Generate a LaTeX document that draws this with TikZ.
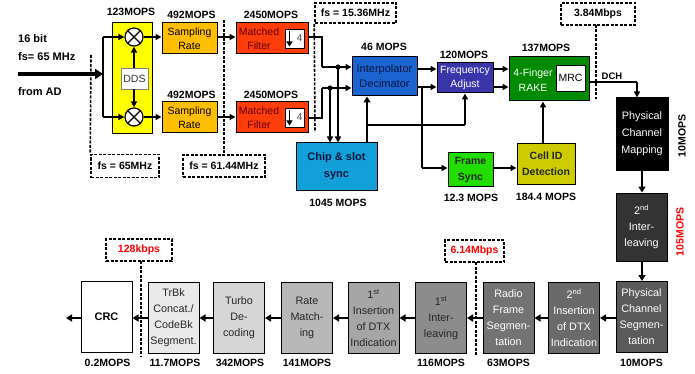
\documentclass[tikz,border=0pt]{standalone}
\usepackage{fontspec}
\setmainfont{Liberation Sans}
\usetikzlibrary{arrows.meta}
\definecolor{cyel}{HTML}{FFFF00}
\definecolor{csr}{HTML}{FFBF00}
\definecolor{cmf}{HTML}{FF3D0A}
\definecolor{cmft}{HTML}{600000}
\definecolor{cint}{HTML}{1C64D0}
\definecolor{cintt}{HTML}{0A1440}
\definecolor{cchip}{HTML}{12A0D8}
\definecolor{cfreq}{HTML}{3A35A8}
\definecolor{crake}{HTML}{008A00}
\definecolor{cframe}{HTML}{22DD00}
\definecolor{ccell}{HTML}{CCCC00}
\definecolor{cred}{HTML}{FF0000}
\definecolor{gA}{HTML}{333333}
\definecolor{gB}{HTML}{5A5A5A}
\definecolor{gC}{HTML}{6A6A6A}
\definecolor{gD}{HTML}{737373}
\definecolor{gE}{HTML}{8C8C8C}
\definecolor{gF}{HTML}{A6A6A6}
\definecolor{gG}{HTML}{B8B8B8}
\definecolor{gH}{HTML}{D6D6D6}
\definecolor{gI}{HTML}{EAEAEA}
\tikzset{
  blk/.style={draw=black, line width=1pt, inner sep=0pt, align=center,
    font=\fontsize{10.5}{14}\selectfont},
  lowblk/.style={blk, minimum width=51pt, minimum height=71pt,
    font=\fontsize{10.8}{16}\selectfont},
  mops/.style={font=\bfseries\fontsize{10.5}{12}\selectfont, inner sep=0pt},
  fsbox/.style={draw=black, line width=1.6pt, dash pattern=on 3pt off 1.5pt,
    fill=white, inner sep=0pt, font=\bfseries\fontsize{10.5}{12}\selectfont},
  dline/.style={line width=1.6pt, dash pattern=on 3pt off 1.5pt},
  arr/.style={line width=1.6pt, -{Triangle[length=6pt,width=6pt]}},
  tarr/.style={line width=2.6pt, -{Triangle[length=6pt,width=7pt]}},
  ln/.style={line width=1.6pt},
  mix/.style={circle, draw=black, line width=1.2pt, fill=white, minimum size=18pt, inner sep=0pt},
  dnbox/.style={draw=black, line width=0.8pt, fill=white, minimum width=19pt, minimum height=19pt,
    inner xsep=1.5pt, inner ysep=0pt, text width=16pt, align=right, text=black!70,
    font=\fontsize{10}{12}\selectfont},
}
\begin{document}
\begin{tikzpicture}[x=1pt,y=-1pt]
\useasboundingbox (0,0) rectangle (695,374);

% ---- input text
\node[anchor=west, font=\bfseries\fontsize{11}{13}\selectfont, inner sep=0pt] (t16) at (18,39) {16 bit};
\node[anchor=west, font=\bfseries\fontsize{11}{13}\selectfont, inner sep=0pt] (tfs) at (18,57) {fs= 65 MHz};
\node[anchor=west, font=\bfseries\fontsize{11}{13}\selectfont, inner sep=0pt] (tad) at (18,92) {from AD};
\coordinate (inL) at (18,74);
\coordinate (inR) at (103,74);
\coordinate (brT) at (103,37);
\coordinate (brB) at (103,117);

% ---- dashed fs lines and boxes
\node[fsbox, minimum width=68pt, minimum height=23pt] (fs65) at (125,166) {fs = 65MHz};
\coordinate (d65) at (91,55);
\draw[dline] (d65) -- (fs65.north west);
\node[fsbox, minimum width=82pt, minimum height=22pt] (fs61) at (224,166) {fs = 61.44MHz};
\coordinate (d61) at (224,20);
\draw[dline] (d61) -- (fs61.north);
\node[fsbox, minimum width=81pt, minimum height=20pt] (fs15) at (355.5,13) {fs = 15.36MHz};
\coordinate (d15) at (315,132);
\draw[dline] (fs15.south west) -- (d15);
\node[fsbox, minimum width=74pt, minimum height=22pt] (f384) at (598,14) {3.84Mbps};
\coordinate (d384) at (596,99);
\draw[dline] (596,25) -- (d384);
\node[fsbox, text=cred, minimum width=59pt, minimum height=22pt] (f614) at (474.5,251) {6.14Mbps};
\coordinate (d614) at (476,356);
\draw[dline] (476,262) -- (d614);
\node[fsbox, text=cred, minimum width=66pt, minimum height=22pt] (f128) at (139,250) {128kbps};
\coordinate (d128) at (141,356);
\draw[dline] (141,261) -- (d128);

% ---- yellow mixer block
\node[blk, fill=cyel, minimum width=40pt, minimum height=111pt] (yel) at (132,78.5) {};
\node[mix] (m1) at (134,37) {};
\node[mix] (m2) at (134,117) {};
\draw[line width=1.2pt] (m1.north east) -- (m1.south west) (m1.north west) -- (m1.south east);
\draw[line width=1.2pt] (m2.north east) -- (m2.south west) (m2.north west) -- (m2.south east);
\node[draw=gray, line width=0.8pt, fill=white, minimum width=27pt, minimum height=21pt, inner sep=0pt,
  font=\fontsize{10.5}{12}\selectfont, text=black!80] (dds) at (134.5,78.5) {DDS};

\draw[line width=3.5pt, -{Triangle[length=8pt,width=10pt]}] (inL) -- (inR);
\draw[line width=2.4pt] (brT) -- (brB);
\draw[arr] (brT) -- (m1.west);
\draw[arr] (brB) -- (m2.west);
\draw[arr] (dds.north -| m1) -- (m1.south);
\draw[arr] (dds.south -| m2) -- (m2.north);

% ---- sampling rate
\node[blk, fill=csr, minimum width=55pt, minimum height=31pt] (sr1) at (189.5,38.5) {Sampling\\Rate};
\node[blk, fill=csr, minimum width=55pt, minimum height=31pt] (sr2) at (189.5,117.5) {Sampling\\Rate};
\draw[arr] (m1.east) -- (sr1.west |- m1);
\draw[arr] (m2.east) -- (sr2.west |- m2);

% ---- matched filters
\node[blk, fill=cmf, minimum width=72pt, minimum height=31pt] (mf1) at (272,38.5) {};
\node[blk, fill=cmf, minimum width=72pt, minimum height=31pt] (mf2) at (272,117.5) {};
\node[align=center, text=cmft, font=\fontsize{10.5}{14}\selectfont, inner sep=0pt] (mf1t) at (259,38.5) {Matched\\Filter};
\node[align=center, text=cmft, font=\fontsize{10.5}{14}\selectfont, inner sep=0pt] (mf2t) at (259,117.5) {Matched\\Filter};
\node[dnbox] (dn1) at (294.5,38.5) {4};
\node[dnbox] (dn2) at (294.5,117.5) {4};
\draw[line width=1.8pt, -{Triangle[length=5pt,width=6pt]}] (289.5,31) -- (289.5,46.5);
\draw[line width=1.8pt, -{Triangle[length=5pt,width=6pt]}] (289.5,110) -- (289.5,125.5);
\draw[arr] (sr1.east |- m1) -- (mf1.west |- m1);
\draw[arr] (sr2.east |- m2) -- (mf2.west |- m2);

% ---- interpolator, chip sync
\node[blk, fill=cint, text=cintt, minimum width=65pt, minimum height=39pt,
  font=\fontsize{11}{15}\selectfont] (intp) at (384.5,76.5) {Interpolator\\Decimator};
\node[blk, fill=cchip, text=cintt, minimum width=81pt, minimum height=47pt,
  font=\bfseries\fontsize{11}{17}\selectfont] (chip) at (336.5,166.5) {Chip \& slot\\sync};

\coordinate (j1a) at (322,37);
\coordinate (j1b) at (322,67);
\coordinate (j2a) at (322,118);
\coordinate (j2b) at (322,88);
\coordinate (dot1) at (338,67);
\coordinate (dot2) at (330,88);
\draw[ln] (mf1.east |- j1a) -- (j1a) -- (j1b);
\draw[arr] (j1b) -- (intp.west |- j1b);
\draw[ln] (mf2.east |- j2a) -- (j2a) -- (j2b);
\draw[arr] (j2b) -- (intp.west |- j2b);
\fill (dot1) circle (2.6pt);
\fill (dot2) circle (2.6pt);
\draw[arr] (dot1) -- (chip.north -| dot1);
\draw[arr] (dot2) -- (chip.north -| dot2);

\coordinate (cs) at (367,143);
\coordinate (csb) at (367,125);
\draw[tarr] (cs) -- (intp.south -| cs);

% ---- frequency adjust, rake
\node[blk, fill=cfreq, text=white, minimum width=56pt, minimum height=30pt,
  font=\fontsize{10.5}{14}\selectfont] (freq) at (465,78) {Frequency\\Adjust};
\node[blk, fill=crake, minimum width=80pt, minimum height=44pt] (rake) at (549,79) {};
\node[align=center, text=white, font=\fontsize{10.5}{15}\selectfont, inner sep=0pt] (raket) at (533,80) {4-Finger\\RAKE};
\node[draw=black, line width=0.8pt, fill=white, minimum width=29pt, minimum height=26pt, inner sep=0pt,
  font=\fontsize{10.5}{12}\selectfont] (mrc) at (570.5,78) {MRC};

\coordinate (fa) at (465,125);
\draw[ln] (csb) -- (fa);
\draw[arr] (fa) -- (freq.south);
\draw[arr] (intp.east |- 0,69) -- (freq.west |- 0,69);
\draw[arr] (intp.east |- 0,87) -- (freq.west |- 0,87);
\draw[arr] (freq.east |- 0,69) -- (rake.west |- 0,69);
\draw[arr] (freq.east |- 0,87) -- (rake.west |- 0,87);

% ---- frame sync, cell id
\node[blk, fill=cframe, text=black!85, minimum width=45pt, minimum height=33pt,
  font=\bfseries\fontsize{10.5}{16}\selectfont] (frame) at (470.5,169.5) {Frame\\Sync};
\node[blk, fill=ccell, text=black!85, minimum width=58pt, minimum height=40pt,
  font=\bfseries\fontsize{10.5}{16}\selectfont] (cell) at (546,164) {Cell ID\\Detection};
\coordinate (fs1) at (422,87);
\coordinate (fs2) at (422,168);
\draw[ln] (fs1) -- (fs2);
\draw[arr] (fs2) -- (frame.west |- fs2);
\draw[arr] (frame.east |- fs2) -- (cell.west |- fs2);
\draw[arr] (cell.north -| 543,0) -- (rake.south -| 543,0);

% ---- right column
\node[blk, fill=black, text=white, minimum width=52pt, minimum height=72pt,
  font=\fontsize{10.8}{17}\selectfont] (pcm) at (642,134) {Physical\\Channel\\Mapping};
\node[blk, fill=gA, text=white, minimum width=51pt, minimum height=68pt,
  font=\fontsize{10.8}{16}\selectfont] (int2) at (641.5,227) {2\textsuperscript{nd}\\Inter-\\leaving};
\coordinate (dch) at (637,82);
\draw[ln] (rake.east |- dch) -- (dch);
\draw[arr] (dch) -- (pcm.north -| dch);
\node[font=\bfseries\fontsize{9.5}{11}\selectfont, inner sep=0pt] (dchl) at (612,76) {DCH};
\draw[tarr] (pcm.south -| 642,0) -- (int2.north -| 642,0);

% ---- bottom row
\node[lowblk, fill=gB, text=white] (pcs) at (641.5,317) {Physical\\Channel\\Segmen-\\tation};
\node[lowblk, fill=gC, text=white] (ins2) at (574,317.5) {2\textsuperscript{nd}\\Insertion\\of DTX\\Indication};
\node[lowblk, fill=gD, text=white] (rfs) at (508.5,317.5) {Radio\\Frame\\Segmen-\\tation};
\node[lowblk, fill=gE, text=black!85] (int1) at (441,318) {1\textsuperscript{st}\\Inter-\\leaving};
\node[lowblk, fill=gF, text=black!85] (ins1) at (373.5,318) {1\textsuperscript{st}\\Insertion\\of DTX\\Indication};
\node[lowblk, fill=gG, text=black!85] (rm) at (307,318) {Rate\\Match-\\ing};
\node[lowblk, fill=gH, text=black!85] (turbo) at (239,318) {Turbo\\De-\\coding};
\node[lowblk, fill=gI, text=black!85] (trbk) at (173.5,317.5) {TrBk\\Concat./\\CodeBk\\Segment.};
\node[lowblk, fill=white, font=\bfseries\fontsize{11}{14}\selectfont] (crc) at (106.5,317) {CRC};
\draw[tarr] (int2.south -| 642,0) -- (pcs.north -| 642,0);
\coordinate (out) at (66,318);
\draw[tarr] (pcs.west |- out) -- (ins2.east |- out);
\draw[tarr] (ins2.west |- out) -- (rfs.east |- out);
\draw[tarr] (rfs.west |- out) -- (int1.east |- out);
\draw[tarr] (int1.west |- out) -- (ins1.east |- out);
\draw[tarr] (ins1.west |- out) -- (rm.east |- out);
\draw[tarr] (rm.west |- out) -- (turbo.east |- out);
\draw[tarr] (turbo.west |- out) -- (trbk.east |- out);
\draw[tarr] (trbk.west |- out) -- (crc.east |- out);
\draw[tarr] (crc.west |- out) -- (out);

% ---- MOPS labels
\node[mops] (l1) at (131,12) {123MOPS};
\node[mops] (l2) at (191.5,15) {492MOPS};
\node[mops] (l3) at (191.5,95) {492MOPS};
\node[mops] (l4) at (271,15) {2450MOPS};
\node[mops] (l5) at (271,95) {2450MOPS};
\node[mops] (l6) at (384,47) {46 MOPS};
\node[mops] (l7) at (464,55) {120MOPS};
\node[mops] (l8) at (546,48) {137MOPS};
\node[mops] (l9) at (338,203) {1045 MOPS};
\node[mops] (l10) at (471,198) {12.3 MOPS};
\node[mops] (l11) at (546,197) {184.4 MOPS};
\node[mops, rotate=90] (l12) at (682,136) {10MOPS};
\node[mops, rotate=90, text=cred] (l13) at (680,232) {105MOPS};
\node[mops] (b1) at (641.5,363) {10MOPS};
\node[mops] (b2) at (508.5,363) {63MOPS};
\node[mops] (b3) at (441,363) {116MOPS};
\node[mops] (b4) at (307,363) {141MOPS};
\node[mops] (b5) at (240,363) {342MOPS};
\node[mops] (b6) at (175,363) {11.7MOPS};
\node[mops] (b7) at (107.5,363) {0.2MOPS};
\end{tikzpicture}
\end{document}
